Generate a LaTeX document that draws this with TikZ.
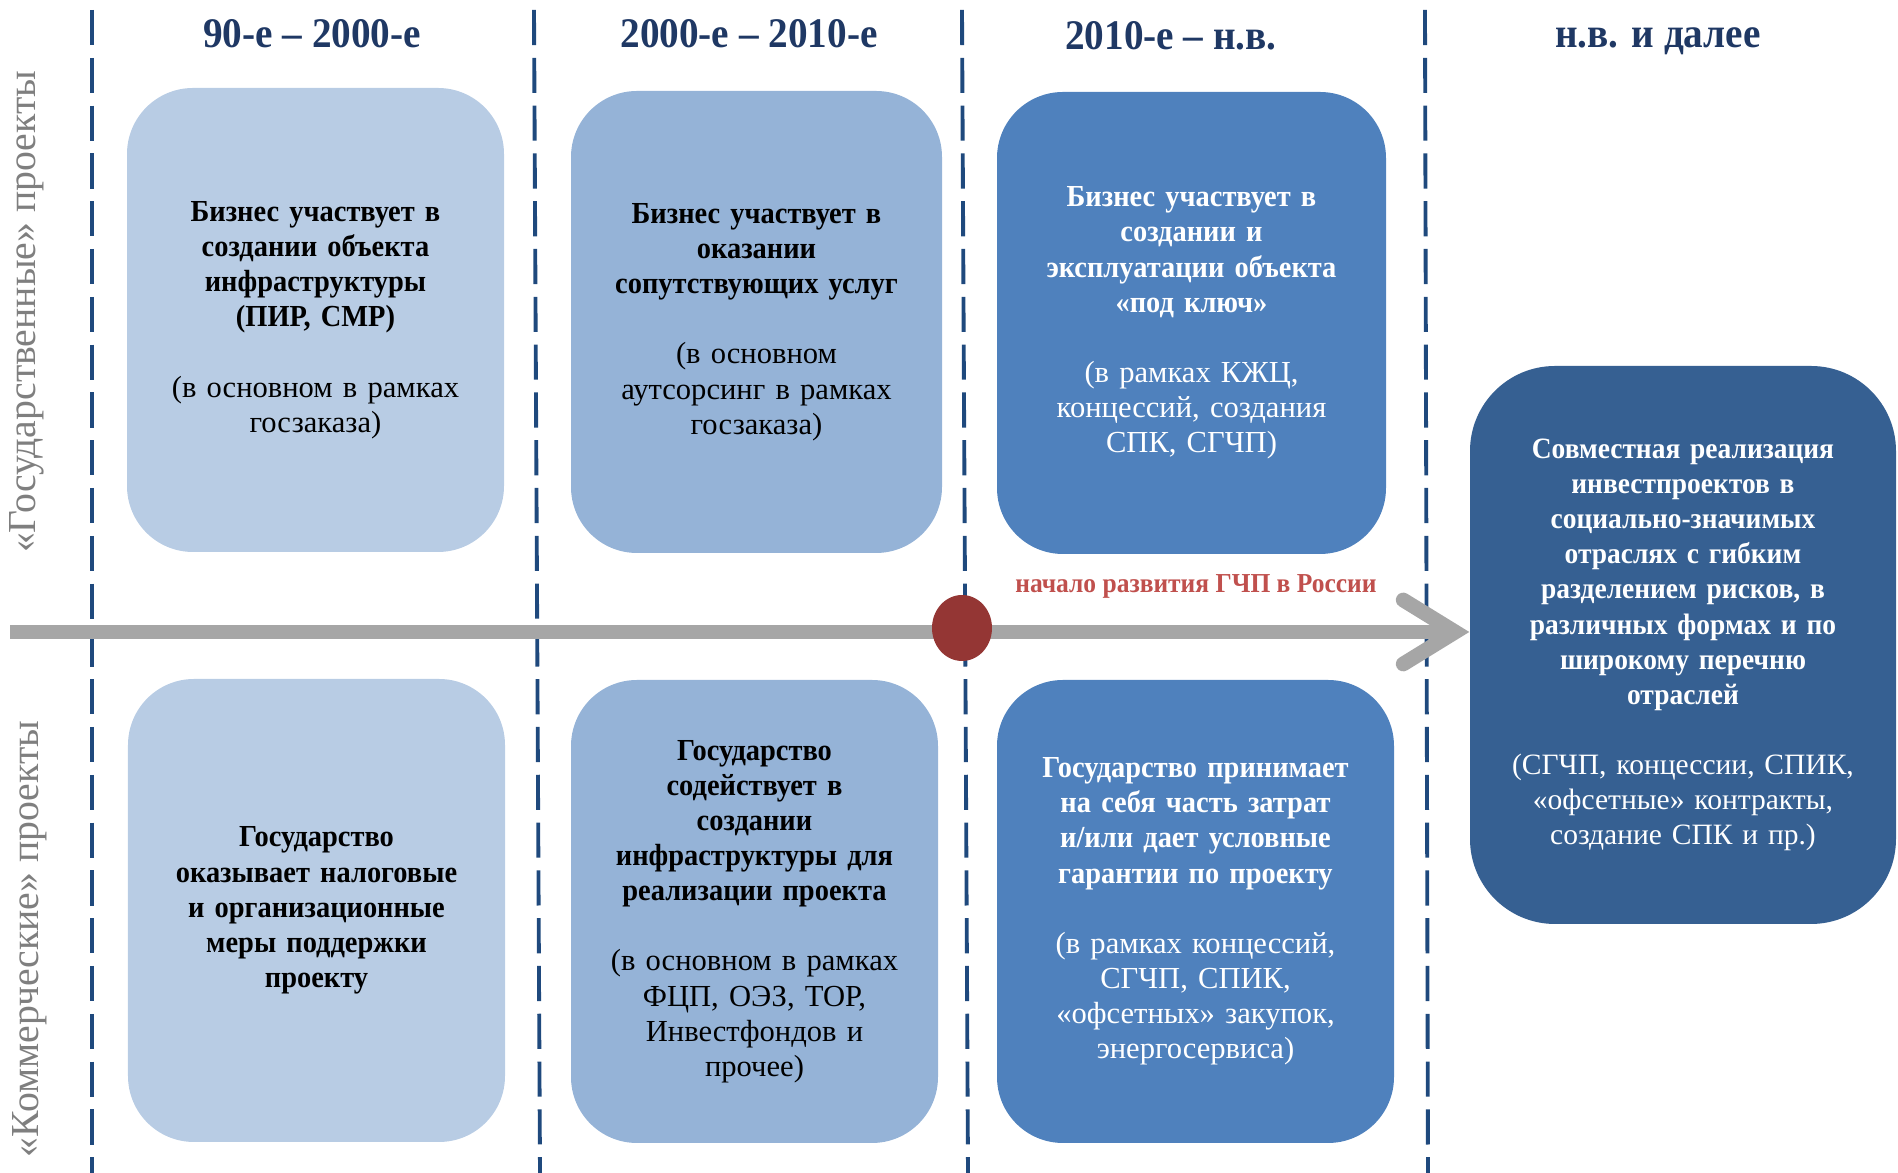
\documentclass[tikz,border=0pt]{standalone}
\usepackage{fontspec}
\setmainfont{Liberation Serif}[BoldFeatures={FakeStretch=0.93}]
\usetikzlibrary{arrows.meta,shapes.geometric}
\definecolor{navy}{HTML}{1F3864}
\definecolor{dashblue}{HTML}{1F497D}
\definecolor{paleblue}{HTML}{B8CCE4}
\definecolor{softblue}{HTML}{95B3D7}
\definecolor{midblue}{HTML}{4F81BD}
\definecolor{deepblue}{HTML}{366092}
\definecolor{axisgray}{HTML}{A6A6A6}
\definecolor{dotred}{HTML}{943634}
\definecolor{labelred}{HTML}{C0504D}
\definecolor{sidegray}{HTML}{7F7F7F}

\begin{document}
\begin{tikzpicture}[
  period/.style={anchor=base, font=\fontsize{12}{13}\selectfont\bfseries, text=navy},
  stage/.style={rounded corners=0.66cm, align=center, inner sep=0pt, text width=3.55cm, font=\fontsize{8.7}{10}\selectfont},
  side/.style={rotate=90, font=\fontsize{11.3}{13}\selectfont, text=sidegray},
  border/.style={draw=dashblue, line width=1.1pt, dash pattern=on 10pt off 3.6pt},
  axis/.style={draw=axisgray, line width=4.2pt, -{Straight Barb[length=5.2mm, width=6.4mm, line cap=round]}}
]
\useasboundingbox (0,0) rectangle (18.98,-11.73);

% period borders
\coordinate (L1T) at (0.92,-0.10);
\coordinate (L1B) at (0.92,-11.73);
\coordinate (L2T) at (5.34,-0.10);
\coordinate (L2B) at (5.40,-11.73);
\coordinate (L3T) at (9.62,-0.10);
\coordinate (L3B) at (9.68,-11.73);
\coordinate (L4T) at (14.25,-0.10);
\coordinate (L4B) at (14.28,-11.73);
\draw[border] (L1T) -- (L1B);
\draw[border] (L2T) -- (L2B);
\draw[border] (L3T) -- (L3B);
\draw[border] (L4T) -- (L4B);

% periods
\node[period] (H1) at (3.12,-0.48) {90-е – 2000-е};
\node[period] (H2) at (7.49,-0.48) {2000-е – 2010-е};
\node[period] (H3) at (11.71,-0.50) {2010-е – н.в.};
\node[period] (H4) at (16.58,-0.48) {н.в. и далее};

% side captions
\node[side] (S1) at (0.27,-3.12) {«Государственные» проекты};
\node[side] (S2) at (0.30,-9.39) {«Коммерческие» проекты};

% state projects
\node[stage, fill=paleblue, minimum width=3.77cm, minimum height=4.64cm] (G1N1) at (3.155,-3.20)
  {{\bfseries Бизнес участвует в\\ создании объекта\\ инфраструктуры\\ (ПИР, СМР)}\\[10pt] (в основном в рамках\\ госзаказа)};
\node[stage, fill=softblue, minimum width=3.71cm, minimum height=4.62cm] (G1N2) at (7.565,-3.22)
  {{\bfseries Бизнес участвует в\\ оказании\\ сопутствующих услуг}\\[10pt] (в основном\\ аутсорсинг в рамках\\ госзаказа)};
\node[stage, fill=midblue, text=white, minimum width=3.89cm, minimum height=4.62cm] (G1N3) at (11.915,-3.23)
  {{\bfseries Бизнес участвует в\\ создании и\\ эксплуатации объекта\\ «под ключ»}\\[10pt] (в рамках КЖЦ,\\ концессий, создания\\ СПК, СГЧП)};

% commercial projects
\node[stage, fill=paleblue, minimum width=3.77cm, minimum height=4.63cm] (G2N1) at (3.165,-9.105)
  {\bfseries Государство\\ оказывает налоговые\\ и организационные\\ меры поддержки\\ проекту};
\node[stage, fill=softblue, minimum width=3.67cm, minimum height=4.63cm] (G2N2) at (7.545,-9.115)
  {{\bfseries Государство\\ содействует в\\ создании\\ инфраструктуры для\\ реализации проекта}\\[10pt] (в основном в рамках\\ ФЦП, ОЭЗ, ТОР,\\ Инвестфондов и\\ прочее)};
\node[stage, fill=midblue, text=white, minimum width=3.97cm, minimum height=4.63cm] (G2N3) at (11.955,-9.115)
  {{\bfseries Государство принимает\\ на себя часть затрат\\ и/или дает условные\\ гарантии по проекту}\\[10pt] (в рамках концессий,\\ СГЧП, СПИК,\\ «офсетных» закупок,\\ энергосервиса)};

% joint projects
\node[stage, fill=deepblue, text=white, rounded corners=0.85cm, font=\fontsize{8.4}{10}\selectfont, minimum width=4.26cm, minimum height=5.58cm] (G3N1) at (16.83,-6.45)
  {{\bfseries Совместная реализация\\ инвестпроектов в\\ социально-значимых\\ отраслях с гибким\\ разделением рисков, в\\ различных формах и по\\ широкому перечню\\ отраслей}\\[10pt] (СГЧП, концессии, СПИК,\\ «офсетные» контракты,\\ создание СПК и пр.)};

% time axis
\coordinate (A0) at (0.10,-6.32);
\draw[axis] (A0) -- (A0 -| G3N1.west);
\node[ellipse, fill=dotred, minimum width=0.60cm, minimum height=0.66cm, inner sep=0pt] (G0N1) at (9.62,-6.28) {};
\node[font=\fontsize{7.8}{10}\selectfont\bfseries, text=labelred] (G0N2) at (11.96,-5.86) {начало развития ГЧП в России};
\end{tikzpicture}
\end{document}
